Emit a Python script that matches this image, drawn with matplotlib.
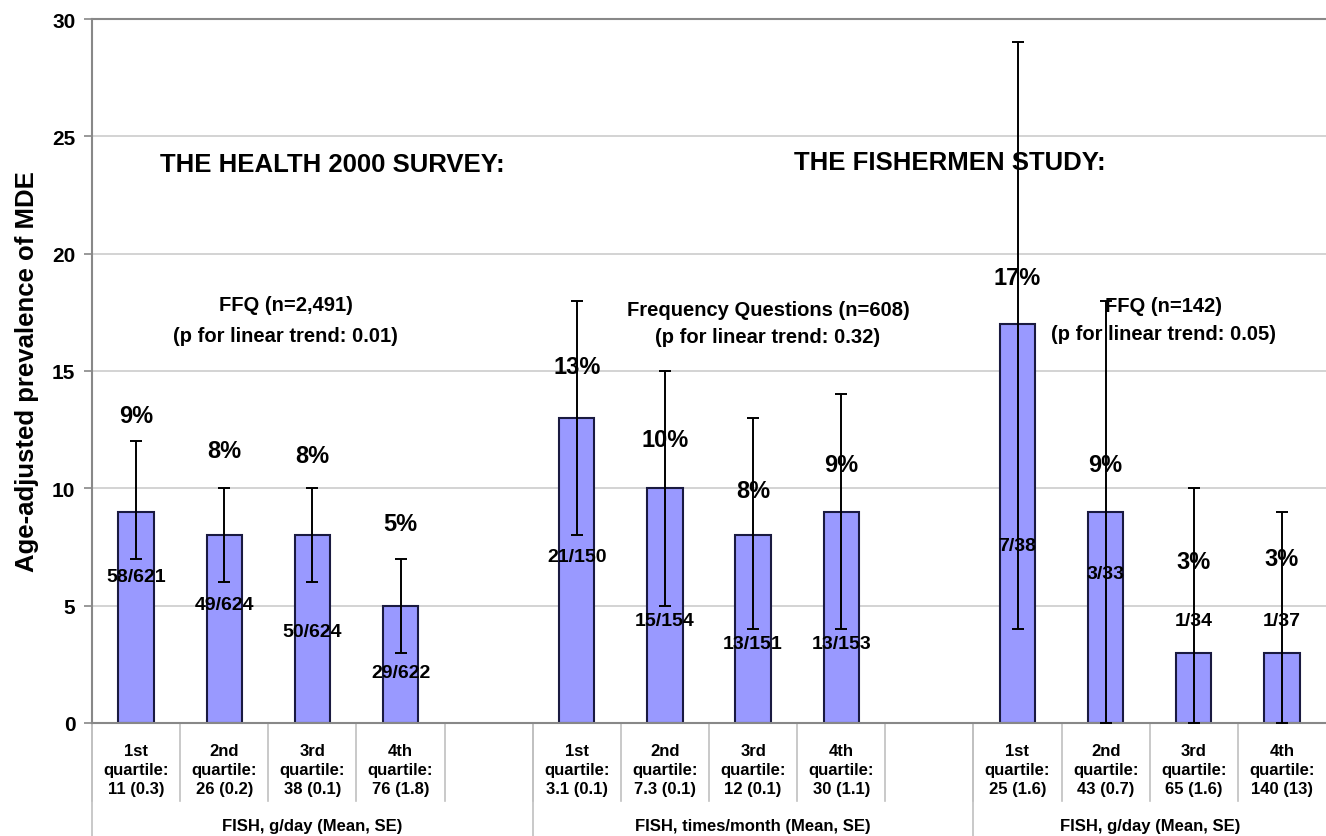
import matplotlib.pyplot as plt
from matplotlib.transforms import blended_transform_factory
import numpy as np

plt.rcParams['font.family'] = ['Liberation Sans', 'DejaVu Sans']
plt.rcParams['font.weight'] = 'bold'

# data (slot index on the x axis, 14 slots in total)
slots = [0, 1, 2, 3, 5, 6, 7, 8, 10, 11, 12, 13]
prevalence = [9, 8, 8, 5, 13, 10, 8, 9, 17, 9, 3, 3]
ci_low = [7, 6, 6, 3, 8, 5, 4, 4, 4, 0, 0, 0]
ci_high = [12, 10, 10, 7, 18, 15, 13, 14, 29, 18, 10, 9]
pct_labels = ['9%', '8%', '8%', '5%', '13%', '10%', '8%', '9%', '17%', '9%', '3%', '3%']
cases = ['58/621', '49/624', '50/624', '29/622', '21/150', '15/154', '13/151', '13/153',
         '7/38', '3/33', '1/34', '1/37']
quartiles = ['1st', '2nd', '3rd', '4th'] * 3
quart_means = ['11 (0.3)', '26 (0.2)', '38 (0.1)', '76 (1.8)',
               '3.1 (0.1)', '7.3 (0.1)', '12 (0.1)', '30 (1.1)',
               '25 (1.6)', '43 (0.7)', '65 (1.6)', '140 (13)']
group_labels = ['FISH, g/day (Mean, SE)', 'FISH, times/month (Mean, SE)', 'FISH, g/day (Mean, SE)']
group_spans = [(0, 5), (5, 10), (10, 14)]

# label heights in data units (hand placed like in the original)
pct_y = [13.1, 11.6, 11.4, 8.5, 15.2, 12.1, 9.9, 11.0, 19.0, 11.0, 6.9, 7.0]
cases_y = [6.25, 5.05, 3.9, 2.15, 7.1, 4.35, 3.4, 3.4, 7.55, 6.35, 4.35, 4.35]

fig = plt.figure(figsize=(13.26, 8.37), dpi=100)
ax = fig.add_axes([92 / 1326, 1 - 724 / 837, 1 - 92 / 1326, 704 / 837])

x = np.array(slots) + 0.5
vals = np.array(prevalence)
yerr = [vals - np.array(ci_low), np.array(ci_high) - vals]

ax.bar(x, vals, width=0.4, color='#9999ff', edgecolor='#1a1a40', linewidth=1.5, zorder=2)
ax.errorbar(x, vals, yerr=yerr, fmt='none', ecolor='black', elinewidth=1.4,
            capsize=4, capthick=1.4, zorder=5)

for xi, t, ty in zip(x, pct_labels, pct_y):
    ax.text(xi, ty, t, ha='center', va='center', fontsize=17, zorder=3)
for xi, t, ty in zip(x, cases, cases_y):
    ax.text(xi, ty, t, ha='center', va='center', fontsize=14, zorder=3)

# headings
ax.text(2.73, 23.8, 'THE HEALTH 2000 SURVEY:', ha='center', va='center', fontsize=18.5)
ax.text(9.73, 23.9, 'THE FISHERMEN STUDY:', ha='center', va='center', fontsize=18.5)
ax.text(2.2, 17.85, 'FFQ (n=2,491)', ha='center', va='center', fontsize=14.5)
ax.text(2.2, 16.5, '(p for linear trend: 0.01)', ha='center', va='center', fontsize=14.5)
ax.text(7.67, 17.6, 'Frequency Questions (n=608)', ha='center', va='center', fontsize=14.5)
ax.text(7.67, 16.45, '(p for linear trend: 0.32)', ha='center', va='center', fontsize=14.5)
ax.text(12.16, 17.77, 'FFQ (n=142)', ha='center', va='center', fontsize=14.5)
ax.text(12.16, 16.6, '(p for linear trend: 0.05)', ha='center', va='center', fontsize=14.5)

ax.set_xlim(0, 14)
ax.set_ylim(0, 30)
ax.set_yticks([0, 5, 10, 15, 20, 25, 30])
ax.tick_params(axis='y', labelsize=15, length=6, color='#888888', width=1.2, pad=6)
ax.set_xticks([])
for lab in ax.get_yticklabels():
    lab.set_fontweight('bold')
ax.yaxis.grid(True, color='#cccccc', linewidth=1.2)
ax.set_axisbelow(True)
for side in ['left', 'top', 'bottom']:
    ax.spines[side].set_color('#888888')
    ax.spines[side].set_linewidth(1.5)
ax.spines['right'].set_visible(False)

ax.set_ylabel('Age-adjusted prevalence of MDE', fontsize=18.5, fontweight='bold', labelpad=9)

# two-level category axis below the plot
trans = blended_transform_factory(ax.transData, ax.transAxes)
for xi, q, m in zip(x, quartiles, quart_means):
    ax.text(xi, -0.066, q + '\nquartile:\n' + m, transform=trans, ha='center', va='center',
            fontsize=12, linespacing=1.3, clip_on=False)
for k in range(14):
    ax.plot([k, k], [0, -0.111], transform=trans, color='#c0c0c0', lw=1.2, clip_on=False)
for (a, b), g in zip(group_spans, group_labels):
    ax.plot([a, a], [0, -0.2], transform=trans, color='#c0c0c0', lw=1.2, clip_on=False)
    ax.text((a + b) / 2, -0.145, g, transform=trans, ha='center', va='center',
            fontsize=12, clip_on=False)

fig.savefig('out.png', dpi=100)
